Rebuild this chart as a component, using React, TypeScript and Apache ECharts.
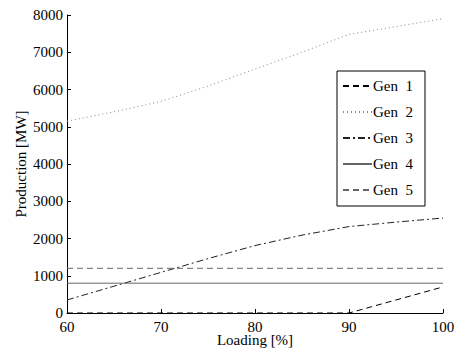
import React, { useEffect, useRef } from "react";
import * as echarts from "echarts";

const loading = [60, 65, 70, 75, 80, 85, 90, 95, 100];
const gen1 = [0, 0, 0, 0, 0, 0, 0, 350, 700];
const gen2 = [5150, 5400, 5680, 6090, 6550, 7000, 7480, 7690, 7900];
const gen3 = [350, 720, 1090, 1460, 1810, 2090, 2320, 2440, 2550];
const gen4 = [800, 800, 800, 800, 800, 800, 800, 800, 800];
const gen5 = [1200, 1200, 1200, 1200, 1200, 1200, 1200, 1200, 1200];
const seriesNames = ["Gen\u00a0\u00a01", "Gen\u00a0\u00a02", "Gen\u00a0\u00a03", "Gen\u00a0\u00a04", "Gen\u00a0\u00a05"];
const xTicks = [60, 70, 80, 90, 100];
const yTicks = [0, 1000, 2000, 3000, 4000, 5000, 6000, 7000, 8000];

const FONT = "Liberation Serif";

export default function App() {
  const ref = useRef<HTMLDivElement>(null);
  useEffect(() => {
    if (!ref.current) return;
    const chart = echarts.init(ref.current, null, { renderer: "svg" });
    const data = [gen1, gen2, gen3, gen4, gen5];
    const styles = [
      { color: "#000", type: [6, 4] },
      { color: "#888", type: [1, 3] },
      { color: "#222", type: [7, 3, 2, 3] },
      { color: "#666", type: "solid" },
      { color: "#666", type: [6, 4] },
    ];
    chart.setOption({
      animation: false,
      textStyle: { fontFamily: FONT },
      grid: { left: 67, right: 14, top: 15, bottom: 36, containLabel: false, outerBoundsMode: "none" },
      xAxis: {
        type: "value",
        min: xTicks[0],
        max: xTicks[xTicks.length - 1],
        interval: 10,
        name: "Loading [%]",
        nameLocation: "middle",
        nameGap: 19,
        nameMoveOverlap: false,
        nameTextStyle: { fontFamily: FONT, fontSize: 15, color: "#000" },
        axisLine: { show: true, lineStyle: { color: "#000", width: 1 } },
        axisTick: { show: true, inside: true, length: 4, lineStyle: { color: "#000" } },
        axisLabel: { fontFamily: FONT, fontSize: 15, color: "#000", margin: 6 },
        splitLine: { show: false },
      },
      yAxis: {
        type: "value",
        min: yTicks[0],
        max: yTicks[yTicks.length - 1],
        interval: 1000,
        name: "Production [MW]",
        nameLocation: "middle",
        nameGap: 39,
        nameMoveOverlap: false,
        nameTextStyle: { fontFamily: FONT, fontSize: 15, color: "#000" },
        axisLine: { show: true, lineStyle: { color: "#000", width: 1 } },
        axisTick: { show: true, inside: true, length: 4, lineStyle: { color: "#000" } },
        axisLabel: {
          fontFamily: FONT,
          fontSize: 15,
          color: "#000",
          margin: 4,
          formatter: (v: number) => String(v),
        },
        splitLine: { show: false },
      },
      legend: {
        orient: "vertical",
        left: 337,
        top: 71,
        data: seriesNames,
        itemWidth: 29,
        itemHeight: 10,
        itemGap: 10,
        padding: [7, 12, 8, 5],
        borderColor: "#000",
        borderWidth: 1,
        backgroundColor: "#fff",
        textStyle: { fontFamily: FONT, fontSize: 15, color: "#000", lineHeight: 16, padding: [0, 0, 0, -4] },
        itemStyle: { opacity: 0 },
      },
      series: seriesNames.map((name, i) => ({
        name,
        type: "line",
        data: loading.map((x, j) => [x, data[i][j]]),
        symbol: "none",
        lineStyle: { color: styles[i].color, type: styles[i].type, width: 1 },
        itemStyle: { color: styles[i].color },
        z: i === 0 ? 3 : 2,
      })),
    });
    return () => chart.dispose();
  }, []);
  return (
    <div
      ref={ref}
      style={{ position: "absolute", left: 0, top: 0, width: 457, height: 349 }}
    />
  );
}
